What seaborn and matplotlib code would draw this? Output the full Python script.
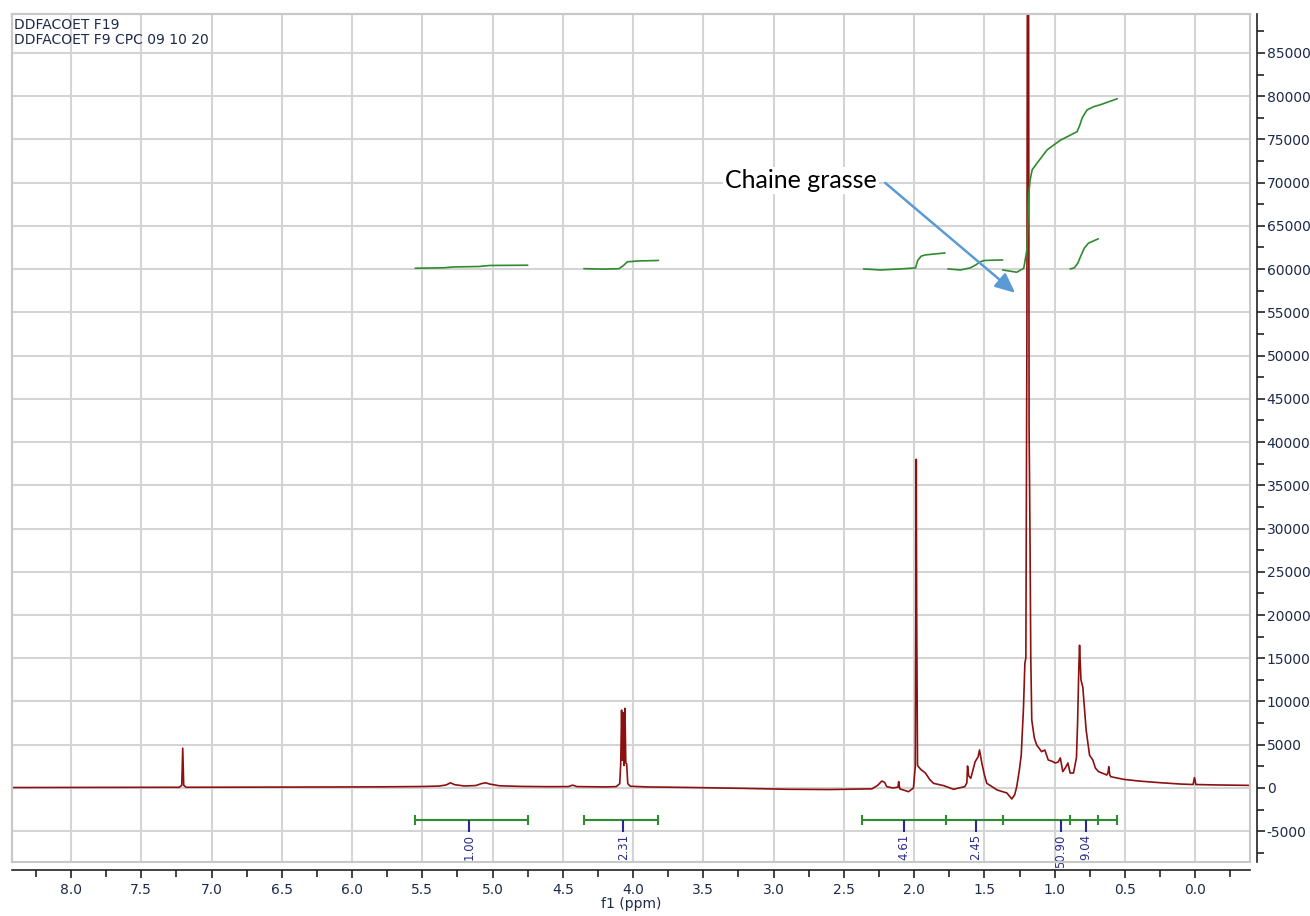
import numpy as np
import pandas as pd
import matplotlib
matplotlib.use('Agg')
import matplotlib.pyplot as plt
import seaborn as sns
from matplotlib.ticker import MultipleLocator, FormatStrFormatter
from matplotlib.patches import Rectangle

# ---- spectrum trace (ppm, intensity) ----
ppm = [8.42, 7.80, 7.40, 7.23, 7.212, 7.205, 7.198, 7.18, 6.80, 6.20, 5.80, 5.50,
       5.38, 5.33, 5.30, 5.27, 5.20, 5.12, 5.08, 5.05, 5.02, 4.95, 4.80, 4.60,
       4.46, 4.43, 4.40, 4.20, 4.12, 4.095, 4.088, 4.082, 4.076, 4.070, 4.064,
       4.058, 4.052, 4.046, 4.038, 4.02, 3.90, 3.60, 3.20, 2.90, 2.60, 2.40, 2.30,
       2.26, 2.23, 2.21, 2.195, 2.15, 2.115, 2.11, 2.102, 2.04, 2.005, 1.992,
       1.988, 1.985, 1.982, 1.976, 1.97, 1.95, 1.92, 1.89, 1.863, 1.79, 1.72,
       1.64, 1.625, 1.62, 1.612, 1.597, 1.566, 1.545, 1.535, 1.518, 1.50, 1.483,
       1.41, 1.34, 1.305, 1.285, 1.27, 1.252, 1.238, 1.222, 1.212, 1.205, 1.198,
       1.192, 1.186, 1.182, 1.176, 1.17, 1.163, 1.145, 1.128, 1.093, 1.07, 1.046,
       1.02, 0.996, 0.975, 0.96, 0.942, 0.925, 0.906, 0.89, 0.866, 0.845, 0.837,
       0.828, 0.823, 0.817, 0.813, 0.80, 0.776, 0.752, 0.729, 0.71, 0.688, 0.629,
       0.62, 0.615, 0.608, 0.60, 0.51, 0.40, 0.25, 0.10, 0.015, 0.005, -0.005,
       -0.15, -0.39]
intensity = [50, 60, 70, 80, 300, 4600, 300, 80, 90, 110, 130, 170,
             220, 350, 600, 380, 230, 280, 500, 600, 450, 250, 180, 150,
             160, 330, 160, 120, 160, 500, 2900, 9000, 3200, 8700, 2600,
             9200, 2900, 2800, 500, 200, 120, 60, -50, -150, -180, -120, -100,
             300, 800, 650, 150, 0, 100, 730, -100, -430, 0, 2500,
             20000, 38000, 20000, 2600, 2470, 2100, 1730, 1000, 540, 270, -150,
             150, 600, 2540, 1400, 1120, 3040, 3600, 4390, 2850, 1500, 540,
             -230, -580, -1270, -800, 150, 2000, 3800, 9250, 14450, 15000, 50000,
             120000, 95000, 41600, 30000, 15000, 7860, 5800, 4970, 4200, 4390, 3240,
             3100, 2890, 3000, 3470, 1890, 2300, 2890, 1730, 1730, 3500, 7500,
             14000, 16500, 14000, 12500, 11700, 6700, 3800, 3240, 2300, 1890, 1500,
             1800, 2460, 1500, 1300, 1000, 800, 610, 450, 400, 1200, 400,
             350, 300]

# ---- integral curves (ppm, value) ----
int_a_ppm = [5.55, 5.35, 5.28, 5.10, 5.02, 4.75]
int_a_val = [60100, 60150, 60250, 60300, 60420, 60450]
int_b_ppm = [4.35, 4.20, 4.10, 4.07, 4.04, 3.95, 3.82]
int_b_val = [60050, 60000, 60050, 60400, 60850, 60950, 61000]
int_c_ppm = [2.36, 2.24, 2.10, 1.99, 1.975, 1.95, 1.92, 1.78]
int_c_val = [60020, 59900, 60020, 60140, 61000, 61500, 61640, 61870]
int_d_ppm = [1.76, 1.67, 1.60, 1.56, 1.53, 1.50, 1.37]
int_d_val = [60020, 59900, 60150, 60500, 60850, 61000, 61060]
int_e_ppm = [1.37, 1.27, 1.22, 1.198, 1.19, 1.185, 1.175, 1.16, 1.10, 1.053,
             0.96, 0.84, 0.82, 0.804, 0.77, 0.72, 0.676, 0.555]
int_e_val = [59900, 59640, 60100, 62200, 65700, 68500, 70300, 71500, 72800, 73800,
             74900, 75900, 76700, 77500, 78400, 78800, 79000, 79700]
int_f_ppm = [0.89, 0.86, 0.835, 0.82, 0.79, 0.76, 0.69]
int_f_val = [60020, 60150, 60700, 61300, 62400, 63000, 63500]

# ---- integration brackets and labels ----
bracket_groups = [[5.55, 4.75], [4.35, 3.82], [2.37, 1.77, 1.37, 0.89, 0.69, 0.558]]
int_label_pos = [5.17, 4.07, 2.07, 1.56, 0.956, 0.78]
int_labels = ['1.00', '2.31', '4.61', '2.45', '50.90', '9.04']

header_lines = ['DDFACOET F19', 'DDFACOET F9 CPC 09 10 20']
annotation_text = 'Chaine grasse'

sns.set_theme(style='white')
plt.rcParams['font.family'] = ['DejaVu Sans']
plt.rcParams['axes.unicode_minus'] = False

fig = plt.figure(figsize=(13.1, 9.16), dpi=100)
ax = fig.add_axes([12/1310, 54/916, 1238/1310, 848/916])

spec = pd.DataFrame({'ppm': ppm, 'intensity': intensity})
sns.lineplot(data=spec, x='ppm', y='intensity', ax=ax, color='#8b1010',
             lw=1.2, sort=False, estimator=None, zorder=3)

green = '#2e8b2e'
for xp, yv in [(int_a_ppm, int_a_val), (int_b_ppm, int_b_val), (int_c_ppm, int_c_val),
               (int_d_ppm, int_d_val), (int_e_ppm, int_e_val), (int_f_ppm, int_f_val)]:
    d = pd.DataFrame({'ppm': xp, 'v': yv})
    sns.lineplot(data=d, x='ppm', y='v', ax=ax, color=green, lw=1.2,
                 sort=False, estimator=None, zorder=4)

ax.set_xlim(8.42, -0.39)
ax.set_ylim(-8560, 89500)

# brackets
yb = -3700
for grp in bracket_groups:
    ax.hlines(yb, grp[0], grp[-1], color=green, lw=1.5, zorder=4)
    ax.vlines(grp, yb - 550, yb + 550, color=green, lw=1.5, zorder=4)
navy = '#2b2b8f'
ax.vlines(int_label_pos, yb - 1400, yb, color=navy, lw=1.5, zorder=4)
for xp, lab in zip(int_label_pos, int_labels):
    ax.text(xp, yb - 1650, lab, rotation=90, ha='center', va='top',
            color=navy, fontsize=8.5, clip_on=False, zorder=5)

# grid and ticks
ax.xaxis.set_major_locator(MultipleLocator(0.5))
ax.xaxis.set_minor_locator(MultipleLocator(0.25))
ax.xaxis.set_major_formatter(FormatStrFormatter('%.1f'))
ax.yaxis.set_major_locator(MultipleLocator(5000))
ax.yaxis.set_minor_locator(MultipleLocator(2500))
ax.yaxis.tick_right()
ax.grid(True, which='major', color='#d4d4d4', lw=1.5)
ax.set_axisbelow(True)
ax.tick_params(axis='both', which='both', direction='out', colors='#222222',
               labelcolor='#1e2a4a', labelsize=10)
ax.tick_params(axis='x', which='major', length=6, width=1.2, bottom=True, pad=3)
ax.tick_params(axis='x', which='minor', length=5, width=1.2, bottom=True)
ax.tick_params(axis='y', which='major', length=6, width=1.2, right=True, left=False, pad=1)
ax.tick_params(axis='y', which='minor', length=5, width=1.2, right=True, left=False)

for s in ['left', 'top']:
    ax.spines[s].set_color('#c8c8c8')
    ax.spines[s].set_linewidth(1.5)
ax.spines['bottom'].set_position(('outward', 6))
ax.spines['right'].set_position(('outward', 5))
ax.spines['bottom'].set_color('#222222')
ax.spines['right'].set_color('#222222')
ax.spines['bottom'].set_linewidth(1.2)
ax.spines['right'].set_linewidth(1.2)
ax.add_patch(Rectangle((0, 0), 1, 1, transform=ax.transAxes, fill=False,
                       edgecolor='#c8c8c8', lw=1.5, clip_on=False, zorder=6))

ax.set_xlabel('f1 (ppm)', fontsize=10, color='#1e2a4a', labelpad=0)
ax.set_ylabel('')

ax.text(0.002, 0.995, '\n'.join(header_lines), transform=ax.transAxes,
        ha='left', va='top', fontsize=10, color='#1e2a4a', linespacing=1.1)

ax.text(3.345, 70200, annotation_text, family=['Lato', 'DejaVu Sans'], fontsize=18,
        ha='left', va='center', color='black', zorder=7,
        bbox=dict(facecolor='white', edgecolor='none', pad=1.5))
ax.annotate('', xy=(1.281, 57250), xytext=(2.206, 69970),
            arrowprops=dict(arrowstyle='-|>,head_length=1.0,head_width=0.45',
                            color='#5b9bd5', lw=1.8, shrinkA=0, shrinkB=0), zorder=8)

fig.savefig('out.png', dpi=100)
